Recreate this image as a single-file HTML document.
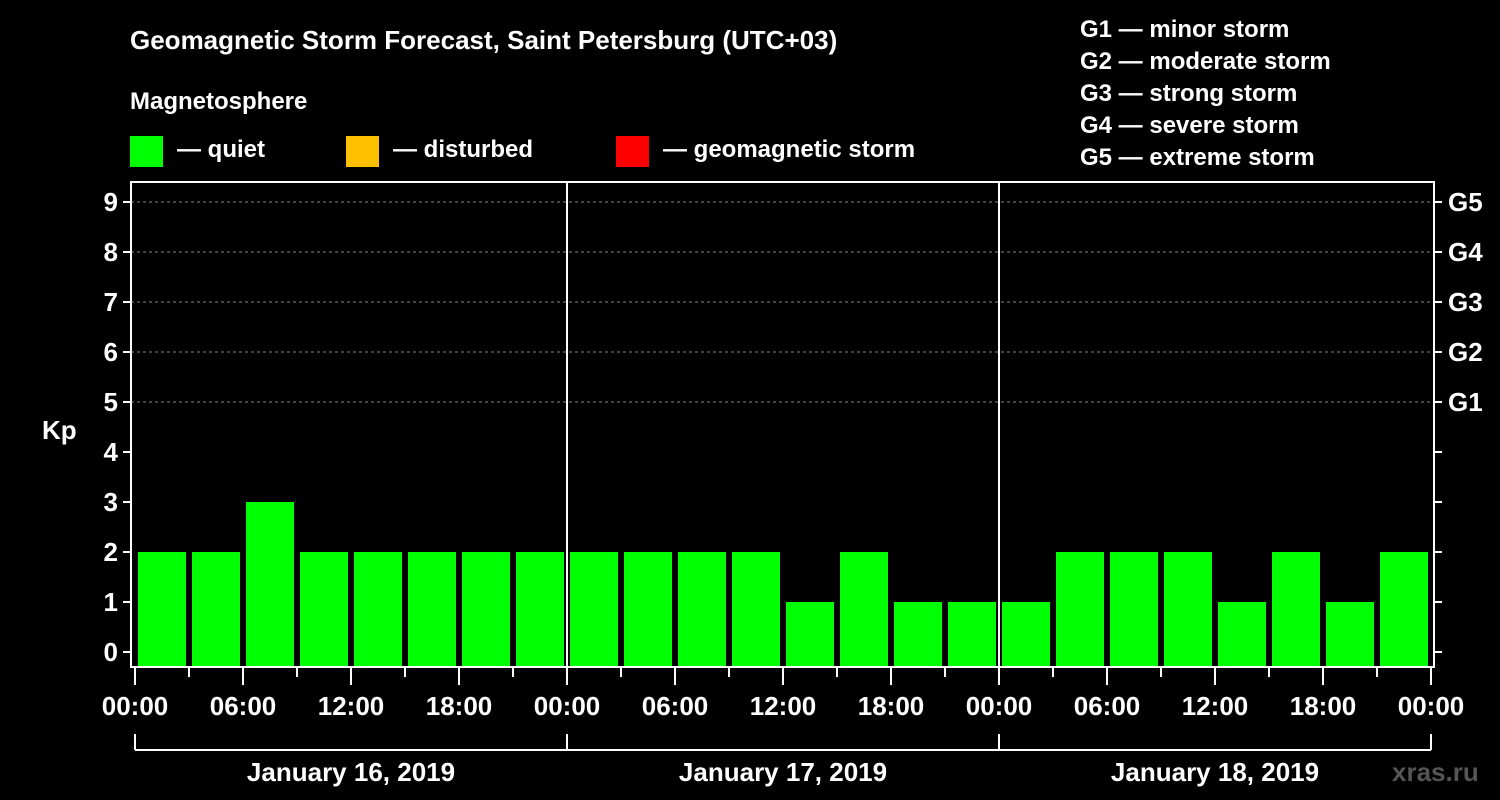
<!DOCTYPE html>
<html><head><meta charset="utf-8"><style>
html,body{margin:0;padding:0;background:#000;}
svg{display:block;font-family:"Liberation Sans",sans-serif;font-weight:bold;}
</style></head><body>
<svg id="c" width="1500" height="800" viewBox="0 0 1500 800">
<rect width="1500" height="800" fill="#000"/>
<text x="130" y="49" fill="#fff" font-size="26">Geomagnetic Storm Forecast, Saint Petersburg (UTC+03)</text>
<text x="130" y="109" fill="#fff" font-size="24">Magnetosphere</text>
<g><rect x="130" y="136" width="33" height="31" fill="#00ff00"/><text x="177" y="157" fill="#fff" font-size="24">— quiet</text></g>
<g><rect x="346" y="136" width="33" height="31" fill="#ffc000"/><text x="393" y="157" fill="#fff" font-size="24">— disturbed</text></g>
<g><rect x="616" y="136" width="33" height="31" fill="#ff0000"/><text x="663" y="157" fill="#fff" font-size="24">— geomagnetic storm</text></g>
<g fill="#fff" font-size="24">
<text x="1080" y="37">G1 — minor storm</text>
<text x="1080" y="69">G2 — moderate storm</text>
<text x="1080" y="101">G3 — strong storm</text>
<text x="1080" y="133">G4 — severe storm</text>
<text x="1080" y="165">G5 — extreme storm</text>
</g>
<text x="42" y="439" fill="#fff" font-size="26">Kp</text>
<text x="1392" y="781" fill="#555" font-size="26">xras.ru</text>
<g id="plot"></g>
</svg>
<script>
const dayLabels = ["January 16, 2019","January 17, 2019","January 18, 2019"];
const timeLabels = ["00:00","06:00","12:00","18:00"];
const yTicks = [0,1,2,3,4,5,6,7,8,9];
const gLabels = ["G1","G2","G3","G4","G5"];
const kpValues = [2,2,3,2,2,2,2,2, 2,2,2,2,1,2,1,1, 1,2,2,2,1,2,1,2];

const NS="http://www.w3.org/2000/svg";
const g=document.getElementById('plot');
const L=131,R=1434,T=182,B=667,X0=135,slot=54;
const y=v=>652-50*v;
const x=i=>X0+i*slot;
function mk(t,a,p){const e=document.createElementNS(NS,t);for(const k in a)e.setAttribute(k,a[k]);(p||g).appendChild(e);return e;}

// grid lines for G levels
[5,6,7,8,9].forEach(v=>{
  const l=mk('line',{x1:L,x2:R,y1:y(v),y2:y(v),stroke:'#888','stroke-width':1,'stroke-dasharray':'3,3'});
  
  
});
// bars
kpValues.forEach((v,i)=>{
  const c=v>=5?'#ff0000':(v>=4?'#ffc000':'#00ff00');
  const r=mk('rect',{x:x(i)+3,y:y(v),width:48,height:B-y(v),fill:c});
  
  
});
// day separators
for(let d=1;d<dayLabels.length;d++){
  const l=mk('line',{x1:x(d*8),x2:x(d*8),y1:T,y2:B,stroke:'#fff','stroke-width':2});
  
  
}
// frame
const fr=mk('rect',{x:L,y:T,width:R-L,height:B-T,fill:'none',stroke:'#fff','stroke-width':2});


// y ticks
yTicks.forEach(v=>{
  mk('line',{x1:L-8,x2:L,y1:y(v),y2:y(v),stroke:'#fff','stroke-width':2});
  mk('line',{x1:R,x2:R+8,y1:y(v),y2:y(v),stroke:'#fff','stroke-width':2});
  const t=mk('text',{x:L-13,y:y(v)+9,fill:'#fff','font-size':26,'text-anchor':'end'});
  t.textContent=v;
  
  
});
gLabels.forEach((s,i)=>{
  const t=mk('text',{x:1448,y:y(5+i)+9,fill:'#fff','font-size':26});
  t.textContent=s;
  
  
});
// x ticks
for(let i=0;i<=kpValues.length;i++){
  const major=i%2===0;
  mk('line',{x1:x(i),x2:x(i),y1:B,y2:major?B+18:B+10,stroke:'#fff','stroke-width':2});
  if(major){
    const t=mk('text',{x:x(i),y:715,fill:'#fff','font-size':26,'text-anchor':'middle'});
    t.textContent=timeLabels[(i/2)%4];
    
    
  }
}
// day brackets
mk('line',{x1:x(0),x2:x(kpValues.length),y1:750,y2:750,stroke:'#fff','stroke-width':2});
for(let d=0;d<=dayLabels.length;d++) mk('line',{x1:x(d*8),x2:x(d*8),y1:734,y2:750,stroke:'#fff','stroke-width':2});
dayLabels.forEach((s,d)=>{
  const t=mk('text',{x:x(d*8+4),y:781,fill:'#fff','font-size':26,'text-anchor':'middle'});
  t.textContent=s;
  
  
});
</script>
</body></html>
